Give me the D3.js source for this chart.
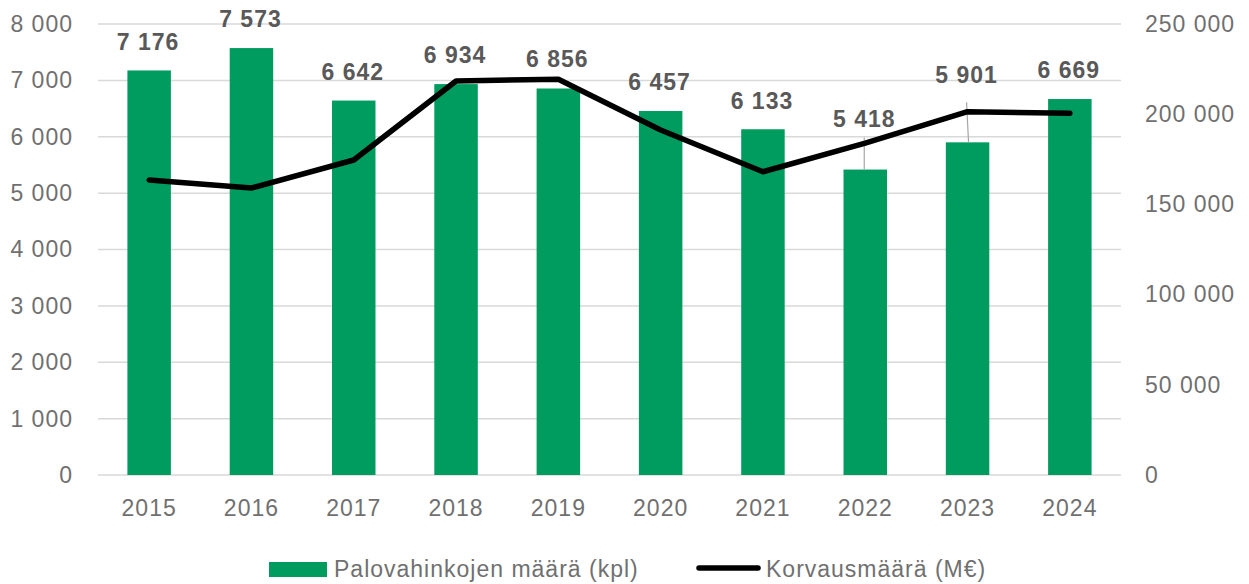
<!DOCTYPE html>
<html><head><meta charset="utf-8">
<script src="https://cdn.jsdelivr.net/npm/d3@7"></script>
<style>
html,body{margin:0;padding:0;background:#fff;}
svg{display:block;font-family:"Liberation Sans",Arial,sans-serif;}
svg text{letter-spacing:1px;}
</style></head>
<body>
<svg id="chart" width="1249" height="584"></svg>
<script>
// ---- data ----
const years = ["2015","2016","2017","2018","2019","2020","2021","2022","2023","2024"];
const fireCounts = [7176, 7573, 6642, 6934, 6856, 6457, 6133, 5418, 5901, 6669];
const compensation = [163500, 159100, 174600, 218400, 219400, 191200, 168100, 184000, 201400, 200500];
const leftTicks = [0,1000,2000,3000,4000,5000,6000,7000,8000];
const rightTicks = [0,50000,100000,150000,200000,250000];
const seriesNames = ["Palovahinkojen määrä (kpl)", "Korvausmäärä (M€)"];

// ---- layout ----
const plot = {left: 98, right: 1121, top: 24, bottom: 475};
const labelLift = [29, 29, 29, 29, 30, 29, 28, 51, 67, 29];   // label centre above bar top
const leaderFrom = [null,null,null,null,null,null,null,11,19,null];
const fmt = v => d3.format(",")(v).replace(/,/g, " ");
const axisColor = "#707070", axisSize = 23;

const svg = d3.select("#chart");
const x = d3.scaleBand().domain(years).range([plot.left, plot.right]).paddingInner(0.575).paddingOuter(0.2875);
const yL = d3.scaleLinear().domain([0, 8000]).range([plot.bottom, plot.top]);
const yR = d3.scaleLinear().domain([0, 250000]).range([plot.bottom, plot.top]);

// gridlines
svg.append("g").selectAll("line").data(leftTicks).join("line")
  .attr("x1", plot.left).attr("x2", plot.right)
  .attr("y1", d => yL(d)).attr("y2", d => yL(d))
  .attr("stroke", "#d9d9d9").attr("stroke-width", 1.5);

function styleAxis(g) {
  g.select(".domain").remove();
  g.selectAll("text").attr("font-size", axisSize).attr("fill", axisColor)
    .attr("font-family", "Liberation Sans, Arial, sans-serif");
}
svg.append("g").attr("transform", `translate(${plot.left},0)`)
  .call(d3.axisLeft(yL).tickValues(leftTicks).tickFormat(fmt).tickSize(0).tickPadding(25)).call(styleAxis);
svg.append("g").attr("transform", `translate(${plot.right},0)`)
  .call(d3.axisRight(yR).tickValues(rightTicks).tickFormat(fmt).tickSize(0).tickPadding(24)).call(styleAxis);
svg.append("g").attr("transform", `translate(0,${plot.bottom})`)
  .call(d3.axisBottom(x).tickSize(0).tickPadding(25)).call(styleAxis);

// bars
svg.append("g").selectAll("rect").data(fireCounts).join("rect")
  .attr("x", (d,i) => x(years[i])).attr("width", x.bandwidth())
  .attr("y", d => yL(d)).attr("height", d => plot.bottom - yL(d))
  .attr("fill", "#009b5f");

// leader lines
svg.append("g").selectAll("line").data(fireCounts.map((d,i)=>({d,i})).filter(o => leaderFrom[o.i] !== null)).join("line")
  .attr("x1", o => x(years[o.i]) + x.bandwidth()/2 - 1)
  .attr("y1", o => yL(o.d) - labelLift[o.i] + leaderFrom[o.i] + 8)
  .attr("x2", o => x(years[o.i]) + x.bandwidth()/2 + (o.i === 8 ? 1 : -1))
  .attr("y2", o => yL(o.d))
  .attr("stroke", "#a6a6a6").attr("stroke-width", 1.2);

// line
const line = d3.line().x((d,i) => x(years[i]) + x.bandwidth()/2).y(d => yR(d));
svg.append("path").datum(compensation)
  .attr("d", line).attr("fill", "none").attr("stroke", "#000")
  .attr("stroke-width", 5.5).attr("stroke-linejoin", "round").attr("stroke-linecap", "round");

// data labels
svg.append("g").selectAll("text").data(fireCounts).join("text")
  .attr("x", (d,i) => x(years[i]) + x.bandwidth()/2 - 1)
  .attr("y", (d,i) => yL(d) - labelLift[i])
  .attr("dy", "0.35em").attr("text-anchor", "middle")
  .attr("font-size", 23).attr("font-weight", "bold").attr("fill", "#595959")
  .text(fmt);

// legend
const lg = svg.append("g");
lg.append("rect").attr("x", 269).attr("y", 562).attr("width", 58).attr("height", 15).attr("fill", "#009b5f");
lg.append("text").attr("x", 334).attr("y", 569).attr("dy", "0.35em").attr("font-size", axisSize).attr("fill", axisColor).text(seriesNames[0]);
lg.append("line").attr("x1", 699).attr("x2", 758).attr("y1", 568).attr("y2", 568)
  .attr("stroke", "#000").attr("stroke-width", 5.5).attr("stroke-linecap", "round");
lg.append("text").attr("x", 766).attr("y", 569).attr("dy", "0.35em").attr("font-size", axisSize).attr("fill", axisColor).text(seriesNames[1]);
</script>
</body></html>
